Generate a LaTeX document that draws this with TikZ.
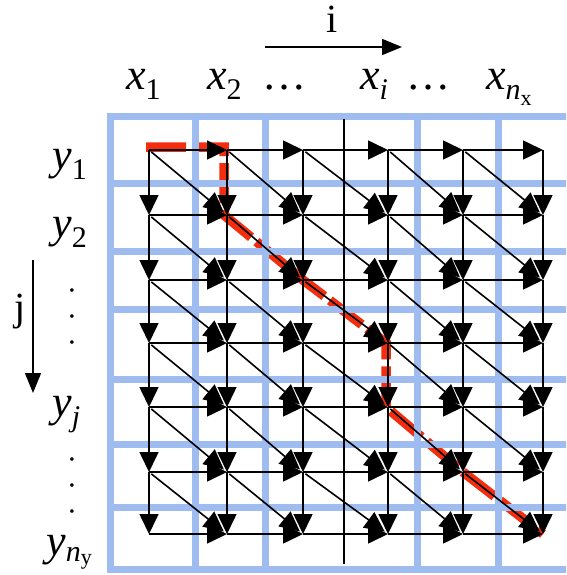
\documentclass[tikz,border=0pt]{standalone}
\usepackage{fontspec}
\setmainfont{Liberation Serif}
\usetikzlibrary{arrows.meta}
\definecolor{gridblue}{RGB}{158,188,240}
\definecolor{pathred}{RGB}{245,45,15}
\newcommand\subl[1]{\raisebox{-10pt}{\fontsize{30}{30}\selectfont #1}}
\newcommand\subsubl[1]{\raisebox{-6pt}{\fontsize{22}{22}\selectfont #1}}
\newcommand\dotcol{\vbox{\baselineskip=26pt\lineskiplimit=-100pt\hbox{•}\hbox{•}\hbox{•}}}
\begin{document}
\begin{tikzpicture}[x=1pt,y=-1pt,
  arr/.style={line width=1.6pt,-{Triangle[length=20pt,width=19pt]}},
  axarr/.style={line width=1.5pt,-{Triangle[length=20pt,width=16pt]}},
  lbl/.style={inner sep=0pt,font=\fontsize{44}{44}\selectfont},
  dotlbl/.style={inner sep=0pt,font=\fontsize{15}{15}\selectfont},
  axlbl/.style={inner sep=0pt,font=\fontsize{40}{40}\selectfont},
  blueline/.style={draw=gridblue,line width=7pt},
  redpath/.style={draw=pathred,line width=9.5pt,dash pattern=on 40pt off 7pt}]
\useasboundingbox (0,0) rectangle (566,575);
\fill[white] (0,0) rectangle (566,575);
\clip (0,0) rectangle (566,575);

% grid points
\foreach \c/\xx in {0/149,1/227,2/303,3/388,4/463,5/543}{
  \foreach \r/\yy in {0/150,1/215,2/280,3/343,4/407,5/472,6/534}{
    \coordinate (n-\c-\r) at (\xx,\yy);
  }
}

% red path
\draw[redpath] ([shift={(-3,-3)}]n-0-0) -- ([shift={(-3,-3)}]n-1-0) -- ([shift={(-3,0)}]n-1-1)
  -- (n-2-2) -- ([shift={(-2,0)}]n-3-3) -- ([shift={(-2,0)}]n-3-4) -- (n-4-5) -- (n-5-6);

% blue grid
\foreach \yy in {117,183,251,309,379,444,507,569}{
  \draw[blueline] (106.5,\yy) -- (570,\yy);
}
\foreach \xx in {110,195,265,417,498}{
  \draw[blueline] (\xx,113.5) -- (\xx,572.5);
}

% thin black line
\coordinate (vt) at (344,119);
\coordinate (vb) at (344,564);
\draw[line width=1.4pt] (vt) -- (vb);

% arrows
\foreach \c in {0,...,4}{
  \foreach \r in {0,...,6}{
    \pgfmathtruncatemacro\cn{\c+1}
    \draw[arr] (n-\c-\r) -- (n-\cn-\r);
  }
}
\foreach \c in {0,...,5}{
  \foreach \r in {0,...,5}{
    \pgfmathtruncatemacro\rn{\r+1}
    \draw[arr] (n-\c-\r) -- (n-\c-\rn);
  }
}
\foreach \c in {0,...,4}{
  \foreach \r in {0,...,5}{
    \pgfmathtruncatemacro\cn{\c+1}
    \pgfmathtruncatemacro\rn{\r+1}
    \draw[arr,shorten <=3pt,shorten >=4pt] (n-\c-\r) -- (n-\cn-\rn);
  }
}

% axis labels
\node[axlbl,anchor=base] (ilab) at (332,33) {i};
\coordinate (ia) at (265,47);
\coordinate (ib) at (402,47);
\draw[axarr] (ia) -- (ib);
\node[axlbl,anchor=base] (jlab) at (20,320) {j};
\coordinate (ja) at (33,260);
\coordinate (jb) at (33,393);
\draw[axarr] (ja) -- (jb);

% x labels
\node[lbl,anchor=base west] (x1) at (126,90) {\textit{x}\subl{1}};
\node[lbl,anchor=base west] (x2) at (207,90) {\textit{x}\subl{2}};
\node[lbl,anchor=base] (xd1) at (284,90) {…};
\node[lbl,anchor=base west] (xi) at (360,90) {\textit{x}\subl{\textit{i}}};
\node[lbl,anchor=base] (xd2) at (428,90) {…};
\node[lbl,anchor=base west] (xn) at (486,90) {\textit{x}\subl{\textit{n}\subsubl{x}}};

% y labels
\node[lbl,anchor=base west] (y1) at (52,169) {\textit{y}\subl{1}};
\node[lbl,anchor=base west] (y2) at (52,237) {\textit{y}\subl{2}};
\node[dotlbl] (yd1) at (72,318) {\dotcol};
\node[lbl,anchor=base west] (yj) at (52,416) {\textit{y}\subl{\textit{j}}};
\node[dotlbl] (yd2) at (72,487) {\dotcol};
\node[lbl,anchor=base west] (yn) at (46,555) {\textit{y}\raisebox{-6pt}{\fontsize{30}{30}\selectfont\textit{n}\raisebox{-3pt}{\fontsize{22}{22}\selectfont y}}};
\end{tikzpicture}
\end{document}
